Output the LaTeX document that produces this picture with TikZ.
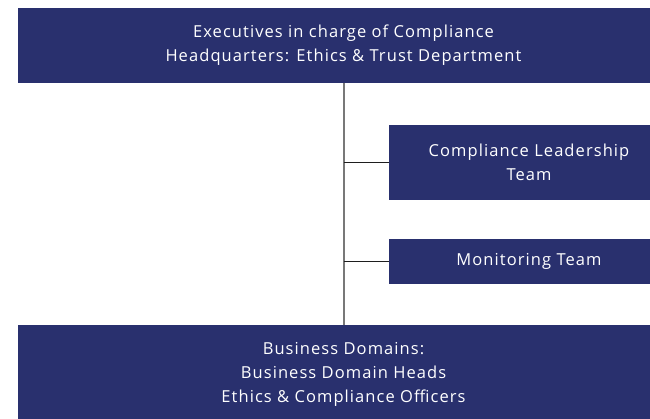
\documentclass[tikz,border=0pt]{standalone}
\usepackage{fontspec}
\setmainfont[LetterSpace=6.5]{Open Sans}
\definecolor{navy}{RGB}{41,48,110}
\definecolor{trunk}{RGB}{120,120,120}
\definecolor{branch}{RGB}{30,30,30}
\tikzset{
  orgbox/.style={fill=navy, draw=none, text=white, align=center, inner sep=0pt,
    font=\fontsize{16.5}{24}\selectfont},
  trunkline/.style={draw=trunk, line width=2pt},
  branchline/.style={draw=branch, line width=1.1pt}
}
\begin{document}
\begin{tikzpicture}[x=1pt,y=-1pt]
\useasboundingbox (0,0) rectangle (650,419);
\clip (0,0) rectangle (650,419);
\node[orgbox, minimum width=651pt, minimum height=75pt] (exec) at (343.5,45.5)
  {Executives in charge of Compliance\\Headquarters: Ethics \& Trust Department};
\node[orgbox, minimum width=280pt, minimum height=75pt] (clt) at (529,162.5)
  {Compliance Leadership\\Team};
\node[orgbox, minimum width=280pt, minimum height=45pt] (mon) at (529,261.5)
  {Monitoring Team};
\node[orgbox, minimum width=651pt, minimum height=98pt] (bd) at (343.5,374.5)
  {Business Domains:\\Business Domain Heads\\Ethics \& Compliance Officers};
\draw[trunkline] (exec.south) -- (bd.north);
\draw[branchline] (clt.west -| exec.south) -- (clt.west);
\draw[branchline] (mon.west -| exec.south) -- (mon.west);
\end{tikzpicture}
\end{document}
